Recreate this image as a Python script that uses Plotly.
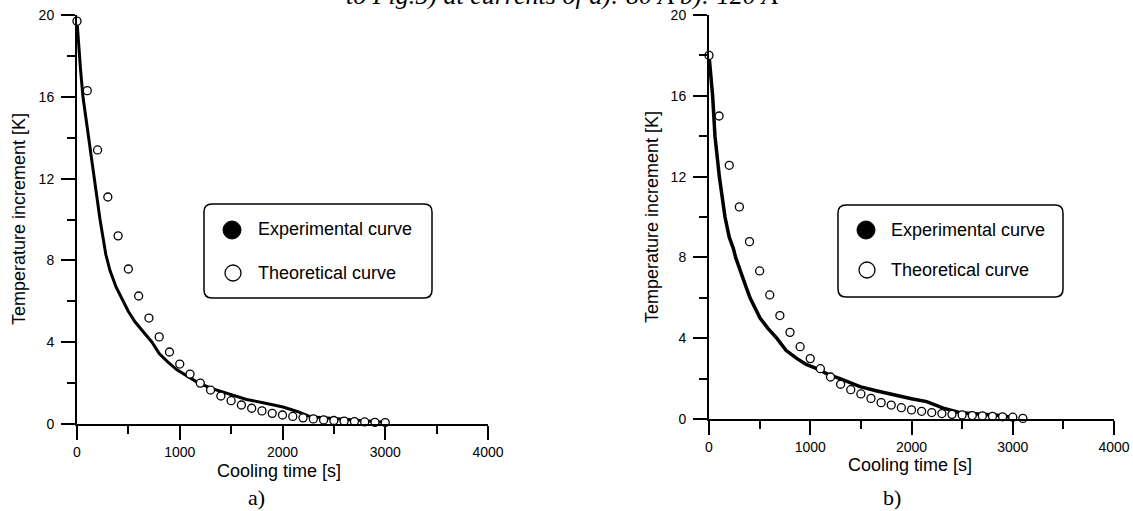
import plotly.graph_objects as go

W, H = 1133, 511

# ---------------- data ----------------
t_exp_a = [0, 15, 35, 58, 100, 140, 175, 224, 280, 321, 380, 450, 500, 564, 650, 730,
           800, 880, 973, 1070, 1168, 1300, 1400, 1518, 1650, 1800, 2005, 2150, 2268,
           2400, 2560, 2700, 2850, 3000]
T_exp_a = [19.7, 18.5, 17.3, 16.0, 14.5, 13.2, 12.0, 10.0, 8.3, 7.5, 6.7, 6.0, 5.5, 5.0,
           4.5, 4.0, 3.45, 3.05, 2.65, 2.35, 2.05, 1.75, 1.6, 1.42, 1.2, 1.05, 0.83, 0.6,
           0.36, 0.3, 0.24, 0.2, 0.15, 0.08]

t_th_a = [0, 100, 200, 300, 400, 500, 600, 700, 800, 900, 1000, 1100, 1200, 1300, 1400,
          1500, 1600, 1700, 1800, 1900, 2000, 2100, 2200, 2300, 2400, 2500, 2600, 2700,
          2800, 2900, 3000]
T_th_a = [19.7, 16.3, 13.4, 11.1, 9.2, 7.58, 6.26, 5.18, 4.26, 3.52, 2.93, 2.44, 2.0, 1.66,
          1.37, 1.14, 0.93, 0.77, 0.64, 0.52, 0.44, 0.37, 0.30, 0.25, 0.20, 0.17, 0.14,
          0.12, 0.10, 0.08, 0.07]

t_exp_b = [0, 20, 36, 59, 102, 158, 200, 240, 263, 333, 405, 504, 580, 669, 760, 866, 960,
           1064, 1180, 1294, 1422, 1491, 1650, 1820, 2000, 2150, 2314, 2480, 2600, 2743,
           2850, 2973]
T_exp_b = [18.0, 17.0, 16.0, 14.0, 12.0, 10.0, 9.0, 8.45, 8.0, 7.0, 6.0, 5.0, 4.5, 4.0, 3.4,
           3.0, 2.7, 2.5, 2.2, 2.0, 1.72, 1.6, 1.4, 1.19, 1.0, 0.86, 0.54, 0.31, 0.27,
           0.25, 0.18, 0.1]

t_th_b = [0, 100, 200, 300, 400, 500, 600, 700, 800, 900, 1000, 1100, 1200, 1300, 1400,
          1500, 1600, 1700, 1800, 1900, 2000, 2100, 2200, 2300, 2400, 2500, 2600, 2700,
          2800, 2900, 3000, 3100]
T_th_b = [18.0, 15.0, 12.56, 10.5, 8.78, 7.33, 6.14, 5.12, 4.29, 3.58, 2.99, 2.49, 2.08,
          1.72, 1.45, 1.24, 1.02, 0.81, 0.69, 0.56, 0.45, 0.38, 0.32, 0.27, 0.23, 0.20,
          0.17, 0.15, 0.13, 0.11, 0.09, 0.03]

x_range = [0, 4000]
y_range = [0, 20]
x_dtick, x_minor = 1000, 500
y_dtick, y_minor = 4, 2
x_title = "Cooling time [s]"
y_title = "Temperature increment [K]"
legend_labels = ["Experimental curve", "Theoretical curve"]
panel_labels = ["a)", "b)"]
caption = "to Fig.5) at currents of a): 80 A b): 120 A"


def px(x):
    return x / W


def py(y):
    return 1 - y / H


FONT = "Liberation Sans, Arial, sans-serif"

fig = go.Figure()

for i, (te, Te, tt, Tt) in enumerate([(t_exp_a, T_exp_a, t_th_a, T_th_a),
                                      (t_exp_b, T_exp_b, t_th_b, T_th_b)]):
    xa = "x" if i == 0 else "x2"
    ya = "y" if i == 0 else "y2"
    fig.add_trace(go.Scatter(x=te, y=Te, mode="lines", xaxis=xa, yaxis=ya,
                             line=dict(color="black", width=3 if i == 0 else 3.5),
                             showlegend=False, hoverinfo="skip"))
    fig.add_trace(go.Scatter(x=tt, y=Tt, mode="markers", xaxis=xa, yaxis=ya,
                             marker=dict(symbol="circle", size=8, color="white",
                                         line=dict(color="black", width=1.3)),
                             cliponaxis=False, showlegend=False, hoverinfo="skip"))


def axis(rng, dt, mdt, standoff):
    return dict(range=rng, tickmode="linear", tick0=0, dtick=dt, ticks="outside",
                ticklen=14, tickwidth=2, tickcolor="black", showline=True, linewidth=2,
                linecolor="black", showgrid=False, zeroline=False, automargin=False,
                ticklabelstandoff=standoff,
                tickfont=dict(family=FONT, size=14, color="black"),
                minor=dict(tickmode="linear", tick0=0, dtick=mdt, ticks="outside",
                           ticklen=8, tickwidth=2, tickcolor="black", showgrid=False))


fig.update_layout(
    template="none",
    width=W, height=H, margin=dict(l=0, r=0, t=0, b=0, pad=0),
    paper_bgcolor="white", plot_bgcolor="rgba(0,0,0,0)", showlegend=False,
    xaxis=dict(domain=[px(77), px(488)], anchor="y", **axis(x_range, x_dtick, x_minor, 0)),
    yaxis=dict(domain=[py(424), py(15)], anchor="x", **axis(y_range, y_dtick, y_minor, 4)),
    xaxis2=dict(domain=[px(709), px(1114)], anchor="y2",
                **axis(x_range, x_dtick, x_minor, 0)),
    yaxis2=dict(domain=[py(419), py(15)], anchor="x2", **axis(y_range, y_dtick, y_minor, 4)),
)

ann = []
shapes = []

panels = [
    dict(xc=279, xt_y=471, yt_x=19, yt_y=219, lab=(256, 497),
         box=(204, 204, 432, 298), c1=(232, 230), c2=(233, 273), tx=256, ty=(229, 273)),
    dict(xc=910, xt_y=465, yt_x=652, yt_y=217, lab=(892, 497),
         box=(838, 205, 1063, 297), c1=(866, 230), c2=(867, 270), tx=889, ty=(230, 270)),
]

for p_i, p in enumerate(panels):
    ann.append(dict(x=px(p["xc"]), y=py(p["xt_y"]), xref="paper", yref="paper",
                    text=x_title, showarrow=False, xanchor="center", yanchor="middle",
                    font=dict(family=FONT, size=18, color="black")))
    ann.append(dict(x=px(p["yt_x"]), y=py(p["yt_y"]), xref="paper", yref="paper",
                    text=y_title, showarrow=False, xanchor="center", yanchor="middle",
                    textangle=-90, font=dict(family=FONT, size=18, color="black")))
    ann.append(dict(x=px(p["lab"][0]), y=py(p["lab"][1]), xref="paper", yref="paper",
                    text=panel_labels[p_i], showarrow=False, xanchor="center",
                    yanchor="middle",
                    font=dict(family="Liberation Serif, Times New Roman, serif", size=22,
                              color="black")))
    x0, y0, x1, y1 = p["box"]
    r = 8
    path = (f"M {px(x0 + r)},{py(y0)} L {px(x1 - r)},{py(y0)} "
            f"Q {px(x1)},{py(y0)} {px(x1)},{py(y0 + r)} L {px(x1)},{py(y1 - r)} "
            f"Q {px(x1)},{py(y1)} {px(x1 - r)},{py(y1)} L {px(x0 + r)},{py(y1)} "
            f"Q {px(x0)},{py(y1)} {px(x0)},{py(y1 - r)} L {px(x0)},{py(y0 + r)} "
            f"Q {px(x0)},{py(y0)} {px(x0 + r)},{py(y0)} Z")
    shapes.append(dict(type="path", path=path, xref="paper", yref="paper",
                       line=dict(color="black", width=1.5), fillcolor="white", layer="above"))
    cx, cy = p["c1"]
    shapes.append(dict(type="circle", xref="paper", yref="paper",
                       x0=px(cx - 9), x1=px(cx + 9), y0=py(cy + 9), y1=py(cy - 9),
                       fillcolor="black", line=dict(color="black", width=1), layer="above"))
    cx, cy = p["c2"]
    shapes.append(dict(type="circle", xref="paper", yref="paper",
                       x0=px(cx - 8), x1=px(cx + 8), y0=py(cy + 8), y1=py(cy - 8),
                       fillcolor="white", line=dict(color="black", width=1.3), layer="above"))
    for k in range(2):
        ann.append(dict(x=px(p["tx"]), y=py(p["ty"][k]), xref="paper", yref="paper",
                        text=legend_labels[k], showarrow=False, xanchor="left",
                        yanchor="middle", font=dict(family=FONT, size=18, color="black")))

# caption of the source page, clipped at the top edge as in the reference
ann.append(dict(x=px(562), y=py(12), xref="paper", yref="paper", text=f"<i>{caption}</i>",
                showarrow=False, xanchor="center", yanchor="bottom",
                font=dict(family="Liberation Serif, Times New Roman, serif", size=26,
                          color="black")))

fig.update_layout(annotations=ann, shapes=shapes)
fig.write_html("out.html", config={"displayModeBar": False, "staticPlot": True},
               post_script="document.body.style.margin='0';document.body.style.overflow='hidden';")
